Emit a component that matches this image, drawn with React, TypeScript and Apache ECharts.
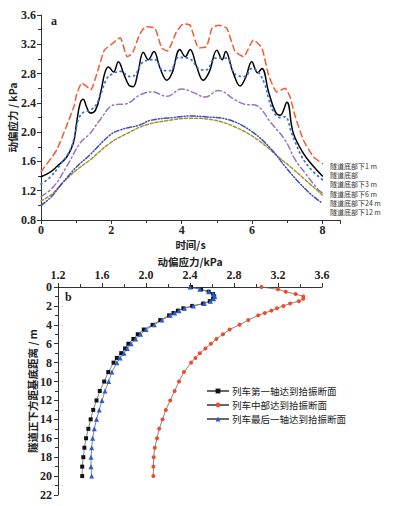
import React, { useEffect, useRef } from "react";
import * as echarts from "echarts";

// ---- Chart a: time (s) vs dynamic deviator stress (kPa)
const timeTicks = [0, 2, 4, 6, 8];
const stressTicksA = [0.8, 1.2, 1.6, 2.0, 2.4, 2.8, 3.2, 3.6];

const seriesNamesA = ["隧道底部下1 m", "隧道底部", "隧道底部下3 m", "隧道底部下6 m", "隧道底部下24 m", "隧道底部下12 m"];

const below1m = [[0,1.46],[0.45,1.76],[0.95,2.37],[1.01,2.51],[1.16,2.67],[1.42,2.58],[1.6,2.82],[1.8,3.12],[2.0,3.2],[2.25,3.29],[2.45,3.03],[2.6,3.08],[2.8,3.33],[2.97,3.44],[3.24,3.42],[3.43,3.15],[3.6,3.11],[3.85,3.37],[4.05,3.48],[4.24,3.46],[4.48,3.15],[4.71,3.17],[4.86,3.42],[5.05,3.46],[5.28,3.42],[5.52,3.10],[5.76,3.03],[6.04,3.26],[6.28,3.15],[6.47,2.78],[6.70,2.55],[6.94,2.60],[7.08,2.48],[7.23,2.21],[7.46,1.89],[7.75,1.66],[8.0,1.57]];
const bottom = [[0,1.39],[0.25,1.45],[0.45,1.53],[0.73,1.66],[0.92,1.85],[1.01,2.12],[1.11,2.39],[1.2,2.45],[1.3,2.34],[1.4,2.26],[1.55,2.30],[1.7,2.55],[1.82,2.82],[1.92,2.89],[2.06,2.82],[2.2,2.96],[2.35,2.80],[2.5,2.64],[2.62,2.62],[2.75,2.80],[2.91,3.09],[3.05,2.99],[3.21,3.10],[3.38,2.88],[3.58,2.71],[3.72,2.80],[3.95,3.13],[4.1,3.03],[4.24,3.13],[4.42,2.90],[4.61,2.71],[4.78,2.82],[5.0,3.12],[5.15,2.99],[5.25,3.10],[5.45,2.83],[5.66,2.63],[5.82,2.75],[5.99,2.96],[6.16,2.81],[6.28,2.87],[6.47,2.55],[6.66,2.28],[6.8,2.23],[6.99,2.41],[7.17,1.99],[7.46,1.71],[7.75,1.53],[8.0,1.40]];
const below3m = [[0,1.29],[0.25,1.38],[0.54,1.55],[0.83,1.76],[0.97,1.98],[1.06,2.17],[1.2,2.27],[1.4,2.30],[1.6,2.40],[1.87,2.73],[2.05,2.80],[2.25,2.83],[2.53,2.76],[2.67,2.78],[2.91,2.96],[3.24,2.99],[3.48,2.84],[3.67,2.84],[3.91,3.02],[4.19,3.01],[4.57,2.85],[4.7,2.85],[4.95,3.01],[5.28,3.01],[5.52,2.79],[5.80,2.76],[5.99,2.87],[6.18,2.82],[6.37,2.64],[6.47,2.46],[6.61,2.28],[6.8,2.2],[6.94,2.21],[7.13,1.98],[7.42,1.66],[7.70,1.48],[8.0,1.35]];
const below6m = [[0,1.12],[0.35,1.25],[0.73,1.53],[1.11,1.85],[1.39,1.98],[1.68,2.17],[2.06,2.37],[2.44,2.39],[2.82,2.51],[3.15,2.55],[3.58,2.49],[4.0,2.59],[4.29,2.55],[4.67,2.48],[5.04,2.57],[5.52,2.44],[5.80,2.38],[6.09,2.37],[6.32,2.28],[6.47,2.17],[6.94,1.89],[7.23,1.62],[7.51,1.44],[7.89,1.21],[8.0,1.17]];
const below24m = [[0,1.06],[0.3,1.15],[0.6,1.30],[1.0,1.48],[1.39,1.62],[1.96,1.85],[2.44,1.98],[3.0,2.10],[3.76,2.17],[4.24,2.19],[4.86,2.17],[5.52,2.07],[6.18,1.89],[6.75,1.66],[7.13,1.51],[7.51,1.35],[8.0,1.14]];
const below12m = [[0,1.00],[0.3,1.12],[0.6,1.30],[1.0,1.52],[1.39,1.69],[1.96,1.96],[2.25,2.03],[2.82,2.10],[3.1,2.16],[3.76,2.20],[4.24,2.22],[4.67,2.21],[5.33,2.17],[5.99,2.01],[6.56,1.76],[6.94,1.53],[7.32,1.32],[7.70,1.14],[8.0,1.03]];

// ---- Chart b: depth below tunnel (m) vs dynamic deviator stress (kPa)
const stressTicksB = [1.2, 1.6, 2.0, 2.4, 2.8, 3.2, 3.6];
const depthTicks = [0, 2, 4, 6, 8, 10, 12, 14, 16, 18, 20, 22];
const seriesNamesB = ["列车第一轴达到拾振断面", "列车中部达到拾振断面", "列车最后一轴达到拾振断面"];
const depths = [0,0.25,0.5,0.75,1,1.25,1.5,1.75,2,2.25,2.5,2.75,3,3.5,4,4.5,5,5.5,6,6.5,7,7.5,8,9,10,11,12,13,14,15,16,17,18,19,20];
const firstAxle = [2.41,2.50,2.57,2.61,2.62,2.61,2.58,2.52,2.42,2.34,2.29,2.25,2.21,2.13,2.06,1.98,1.925,1.885,1.84,1.81,1.775,1.735,1.705,1.657,1.62,1.58,1.55,1.52,1.497,1.476,1.455,1.44,1.43,1.42,1.42];
const middle = [3.05,3.20,3.27,3.36,3.43,3.43,3.39,3.31,3.25,3.19,3.14,3.08,3.02,2.93,2.85,2.76,2.70,2.64,2.59,2.54,2.49,2.45,2.41,2.345,2.30,2.26,2.22,2.18,2.15,2.12,2.10,2.08,2.07,2.067,2.067];
const lastAxle = [2.40,2.49,2.57,2.61,2.625,2.615,2.585,2.53,2.43,2.35,2.30,2.26,2.22,2.145,2.075,2.0,1.95,1.905,1.865,1.83,1.80,1.765,1.735,1.69,1.66,1.627,1.60,1.575,1.55,1.53,1.515,1.506,1.50,1.50,1.506];

const SERIF = "'Liberation Serif','Noto Sans CJK SC',serif";
const CJK = "'Noto Sans CJK SC','Liberation Serif',sans-serif";

export default function App() {
  const ref = useRef<HTMLDivElement>(null);
  useEffect(() => {
    if (!ref.current) return;
    const chart = echarts.init(ref.current, null, { renderer: "svg" });
    const axisLabel = { fontFamily: SERIF, fontWeight: "bold", fontSize: 12, color: "#222" };
    const axisLine = { lineStyle: { color: "#333", width: 1 } };
    const nameStyle = { fontFamily: CJK, fontSize: 10.5, fontWeight: "bold", color: "#222" };
    const tick = { show: true, length: 4, lineStyle: { color: "#333" } };
    const minor = { show: true, splitNumber: 2, length: 3, lineStyle: { color: "#333" } };
    const lineA = (name: string, data: number[][], color: string, type: any, width = 1.5, smooth: number | boolean = 0.35) => ({
      name, type: "line", xAxisIndex: 0, yAxisIndex: 0, data, showSymbol: false, symbol: "none", smooth,
      lineStyle: { color, type, width, cap: "round" }, silent: true,
    });
    const lineB = (name: string, vals: number[], color: string, symbol: string, size: number) => ({
      name, type: "line", xAxisIndex: 1, yAxisIndex: 1,
      data: vals.map((v, i) => [v, depths[i]]),
      symbol, symbolSize: size, showSymbol: true,
      lineStyle: { color: "#666", width: 0.8 },
      itemStyle: { color, borderWidth: 0 },
      silent: true,
    });
    const labelY = [165.7, 175, 184.3, 193.6, 202.9, 212.2];
    chart.setOption({
      animation: false,
      backgroundColor: "#fff",
      grid: [
        { left: 41, top: 15, right: 56, bottom: 286, outerBoundsMode: "none", containLabel: false },
        { left: 58, top: 287, right: 74, bottom: 11, outerBoundsMode: "none", containLabel: false },
      ],
      xAxis: [
        {
          gridIndex: 0, type: "value", min: 0, max: 8.5, interval: 2,
          name: "时间/s", nameLocation: "middle", nameGap: 19, nameMoveOverlap: false,
          nameTextStyle: nameStyle,
          axisLine, axisTick: tick, minorTick: minor, splitLine: { show: false },
          axisLabel: { ...axisLabel, margin: 4, formatter: (v: number) => (v > 8 ? "" : String(v)) },
        },
        {
          gridIndex: 1, type: "value", min: 1.2, max: 3.6, interval: 0.4, position: "top",
          name: "动偏应力/kPa", nameLocation: "middle", nameGap: 20, nameMoveOverlap: false,
          nameTextStyle: nameStyle,
          axisLine, axisTick: tick, minorTick: minor, splitLine: { show: false },
          axisLabel: { ...axisLabel, margin: 6, formatter: (v: number) => v.toFixed(1) },
        },
      ],
      yAxis: [
        {
          gridIndex: 0, type: "value", min: 0.8, max: 3.6, interval: 0.4,
          name: "动偏应力 / kPa", nameLocation: "middle", nameGap: 23, nameRotate: 90, nameMoveOverlap: false,
          nameTextStyle: nameStyle,
          axisLine: { show: true, ...axisLine }, axisTick: tick, minorTick: minor, splitLine: { show: false },
          axisLabel: { ...axisLabel, margin: 5, formatter: (v: number) => v.toFixed(1) },
        },
        {
          gridIndex: 1, type: "value", min: 0, max: 22, interval: 2, inverse: true,
          name: "隧道正下方距基底距离 / m", nameLocation: "middle", nameGap: 20, nameRotate: 90, nameMoveOverlap: false,
          nameTextStyle: nameStyle,
          axisLine: { show: true, ...axisLine }, axisTick: tick, minorTick: minor, splitLine: { show: false },
          axisLabel: { ...axisLabel, margin: 6 },
        },
      ],
      legend: {
        data: seriesNamesB, orient: "vertical", left: 206, top: 386, itemGap: 4,
        itemWidth: 22, itemHeight: 6, selectedMode: false, padding: 0,
        textStyle: { fontFamily: CJK, fontSize: 9.5, color: "#222", lineHeight: 10, padding: [0, 0, 0, -2] },
      },
      graphic: [
        { type: "text", left: 51, top: 15, style: { text: "a", font: `bold 12px ${SERIF}`, fill: "#222" } },
        { type: "text", left: 65, top: 291, style: { text: "b", font: `bold 12px ${SERIF}`, fill: "#222" } },
        ...seriesNamesA.map((n, i) => ({
          type: "text", x: 330, y: labelY[i],
          style: { text: n, font: `7px ${CJK}`, fill: "#333", verticalAlign: "middle" },
        })),
      ],
      series: [
        lineA(seriesNamesA[0], below1m, "#f45a34", [6, 4], 1.5, 0.15),
        lineA(seriesNamesA[1], bottom, "#000000", "solid", 1.5, 0.4),
        lineA(seriesNamesA[2], below3m, "#3c6ee0", [1, 4], 1.8, 0.4),
        lineA(seriesNamesA[3], below6m, "#9a70c6", [6, 3, 1.5, 3], 1.5, 0.4),
        lineA(seriesNamesA[4], below24m, "#a39530", [3, 2], 1.5, 0.4),
        lineA(seriesNamesA[5], below12m, "#3a4cc4", [5, 2, 1, 2, 1, 2], 1.5, 0.4),
        lineB(seriesNamesB[0], firstAxle, "#111111", "rect", 4),
        lineB(seriesNamesB[1], middle, "#f04a28", "circle", 4),
        lineB(seriesNamesB[2], lastAxle, "#2a5bd0", "triangle", 5),
      ],
    });
    return () => chart.dispose();
  }, []);
  return (
    <div
      ref={ref}
      style={{ position: "fixed", left: 0, top: 0, width: 396, height: 506, background: "#fff" }}
    />
  );
}
